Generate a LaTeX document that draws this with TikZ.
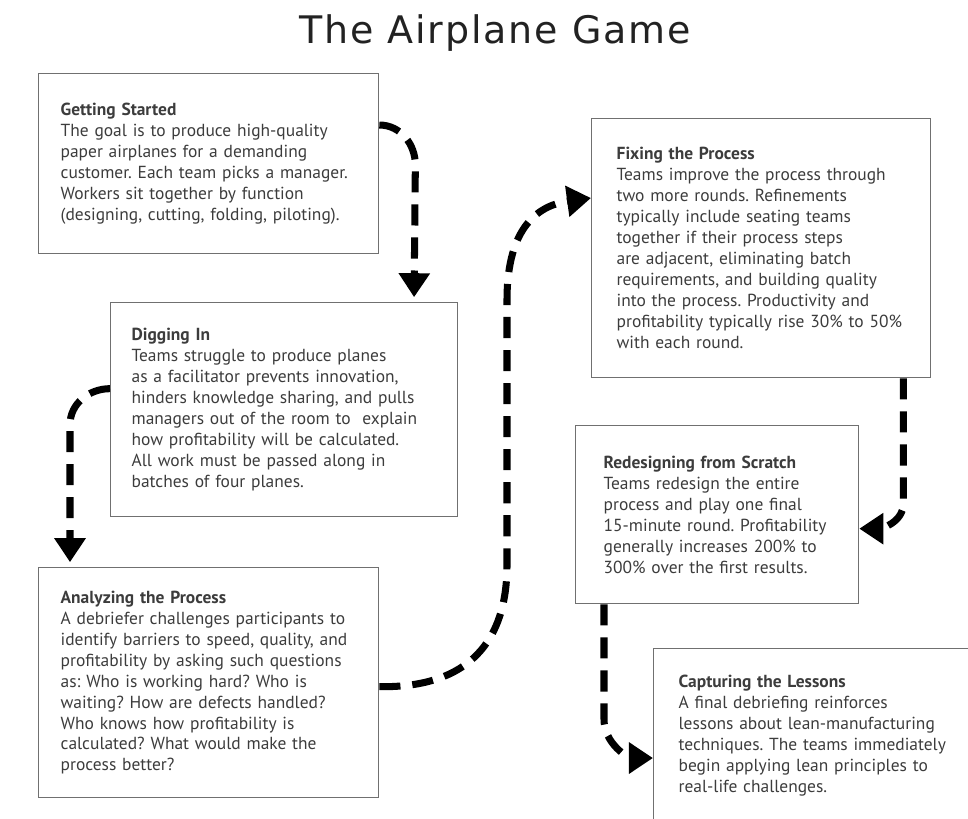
\documentclass[tikz,border=0pt]{standalone}
\usepackage{fontspec}
\setmainfont{PT Sans}
\newfontfamily\titlefont[LetterSpace=5]{DejaVu Sans}
\usetikzlibrary{arrows.meta}
\frenchspacing

\definecolor{boxgray}{HTML}{707070}
\definecolor{bodytext}{HTML}{3C3C3C}
\definecolor{titletext}{HTML}{222222}

\tikzset{
  stage/.style={draw=boxgray, line width=0.9pt, anchor=north west, align=left,
    inner ysep=0pt, text=bodytext, font=\fontsize{12.4}{14.9}\selectfont},
  flow/.style={line width=5pt, dash pattern=on 15pt off 8.5pt,
    -{Triangle[length=0.6cm,width=0.75cm]}}
}

\begin{document}
\begin{tikzpicture}[x=0.025cm,y=-0.025cm]
\useasboundingbox (0,0) rectangle (968,818);
\clip (0,0) rectangle (968,818);

\node[font=\titlefont\fontsize{27}{32}\selectfont,anchor=base,text=titletext] (title) at (495,43) {The Airplane Game};

% the six stages
\node[stage,text width=7.4cm,inner xsep=0.55cm,minimum height=4.5cm] (started) at (38,73)
  {\textbf{Getting Started}\\
   The goal is to produce high-quality\\
   paper airplanes for a demanding\\
   customer. Each team picks a manager.\\
   Workers sit together by function\\
   (designing, cutting, folding, piloting).};

\node[stage,text width=7.625cm,inner xsep=0.525cm,minimum height=5.35cm] (digging) at (110,302)
  {\textbf{Digging In}\\
   Teams struggle to produce planes\\
   as a facilitator prevents innovation,\\
   hinders knowledge sharing, and pulls\\
   managers out of the room to\ \ explain\\
   how profitability will be calculated.\\
   All work must be passed along in\\
   batches of four planes.};

\node[stage,text width=7.4cm,inner xsep=0.55cm,minimum height=5.75cm] (analyzing) at (38,567)
  {\textbf{Analyzing the Process}\\
   A debriefer challenges participants to\\
   identify barriers to speed, quality, and\\
   profitability by asking such questions\\
   as: Who is working hard? Who is\\
   waiting? How are defects handled?\\
   Who knows how profitability is\\
   calculated? What would make the\\
   process better?};

\node[stage,text width=7.225cm,inner xsep=0.625cm,minimum height=6.475cm] (fixing) at (591,118)
  {\textbf{Fixing the Process}\\
   Teams improve the process through\\
   two more rounds. Refinements\\
   typically include seating teams\\
   together if their process steps\\
   are adjacent, eliminating batch\\
   requirements, and building quality\\
   into the process. Productivity and\\
   profitability typically rise 30\% to 50\%\\
   with each round.};

\node[stage,text width=5.675cm,inner xsep=0.7cm,minimum height=4.45cm] (redesign) at (575,425)
  {\textbf{Redesigning from Scratch}\\
   Teams redesign the entire\\
   process and play one final\\
   15-minute round. Profitability\\
   generally increases 200\% to\\
   300\% over the first results.};

\node[stage,text width=7.75cm,inner xsep=0.625cm,minimum height=4.35cm] (lessons) at (653,648)
  {\textbf{Capturing the Lessons}\\
   A final debriefing reinforces\\
   lessons about lean-manufacturing\\
   techniques. The teams immediately\\
   begin applying lean principles to\\
   real-life challenges.};

% dashed flow between stages
\draw[flow] ([yshift=-1.3cm]started.north east) to[out=0,in=90] ++(36,40)
  -- ([xshift=7.6cm,yshift=0.12cm]digging.north west);
\draw[flow] ([yshift=0.525cm]digging.west) to[out=180,in=90] ++(-40,36)
  -- ([xshift=0.8cm,yshift=0.12cm]analyzing.north west);
\draw[flow] ([yshift=-0.1cm]analyzing.east) .. controls (470,688) and (507,640) .. (507,565)
  -- (507,300) .. controls (507,225) and (540,205) .. ([yshift=-2cm]fixing.north west);
\draw[flow] ([xshift=-0.7cm]fixing.south east) -- ++(0,125)
  to[out=-90,in=0] ([yshift=-0.35cm]redesign.east);
\draw[flow] ([xshift=0.725cm]redesign.south west) -- ++(0,115)
  to[out=-90,in=180] ([yshift=-2.75cm]lessons.north west);
\end{tikzpicture}
\end{document}
